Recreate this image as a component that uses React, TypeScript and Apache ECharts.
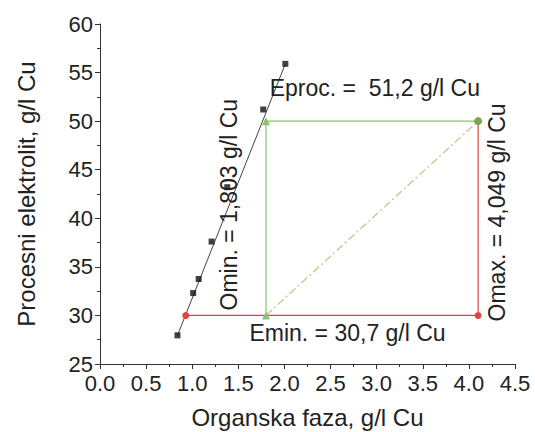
import React, { useEffect, useRef } from "react";
import * as echarts from "echarts";

const xTickLabels = ["0.0", "0.5", "1.0", "1.5", "2.0", "2.5", "3.0", "3.5", "4.0", "4.5"];
const yTicks = [25, 30, 35, 40, 45, 50, 55, 60];

const measuredPoints: [number, number][] = [
  [0.84, 27.95],
  [1.01, 32.3],
  [1.07, 33.75],
  [1.21, 37.6],
  [1.38, 43.2],
  [1.77, 51.2],
  [2.01, 55.9],
];
const fitLine: [number, number][] = [
  [0.84, 27.95],
  [2.01, 55.9],
];
const redPath: [number, number][] = [
  [0.93, 30],
  [4.1, 30],
  [4.1, 50],
];
const greenPath: [number, number][] = [
  [1.8, 30],
  [1.8, 50],
  [4.1, 50],
];
const diagonal: [number, number][] = [
  [1.8, 30],
  [4.1, 50],
];

const annotations = [
  { text: "Eproc. =  51,2 g/l Cu", at: [1.84, 53.4], rotate: 0, align: "left" },
  { text: "Emin. = 30,7 g/l Cu", at: [1.62, 28.2], rotate: 0, align: "left" },
  { text: "Omin. = 1,803 g/l Cu", at: [1.4, 41.4], rotate: Math.PI / 2, align: "center" },
  { text: "Omax. = 4,049 g/l Cu", at: [4.3, 40.6], rotate: Math.PI / 2, align: "center" },
];

const FONT = "'Liberation Sans', Arial, sans-serif";

export default function App() {
  const ref = useRef<HTMLDivElement>(null);
  useEffect(() => {
    if (!ref.current) return;
    const chart = echarts.init(ref.current, undefined, { renderer: "svg" });
    const RED = "#e0463c";
    const GREEN = "#86c46e";
    chart.setOption({
      animation: false,
      backgroundColor: "#ffffff",
      grid: {
        left: 100,
        right: 20,
        top: 24,
        bottom: 68,
        containLabel: false,
        outerBoundsMode: "none",
      },
      xAxis: {
        type: "value",
        min: 0,
        max: 4.5,
        interval: 0.5,
        name: "Organska faza, g/l Cu",
        nameLocation: "middle",
        nameGap: 41,
        nameTextStyle: { fontSize: 24, color: "#222", fontFamily: FONT, lineHeight: 24 },
        axisLine: { show: true, onZero: false, lineStyle: { color: "#333", width: 1 } },
        axisTick: { show: true, length: 5, lineStyle: { color: "#333" } },
        minorTick: { show: true, splitNumber: 2, length: 3, lineStyle: { color: "#333" } },
        splitLine: { show: false },
        axisLabel: {
          fontSize: 22,
          lineHeight: 16,
          color: "#222",
          fontFamily: FONT,
          margin: 11,
          formatter: (v: number) => xTickLabels[Math.round(v / 0.5)] ?? "",
        },
      },
      yAxis: {
        type: "value",
        min: yTicks[0],
        max: yTicks[yTicks.length - 1],
        interval: 5,
        name: "Procesni elektrolit, g/l Cu",
        nameLocation: "middle",
        nameGap: 62,
        nameTextStyle: { fontSize: 24, color: "#222", fontFamily: FONT },
        axisLine: { show: true, onZero: false, lineStyle: { color: "#333", width: 1 } },
        axisTick: { show: true, length: 5, lineStyle: { color: "#333" } },
        minorTick: { show: true, splitNumber: 2, length: 3, lineStyle: { color: "#333" } },
        splitLine: { show: false },
        axisLabel: { fontSize: 22, lineHeight: 16, color: "#222", fontFamily: FONT, margin: 7 },
      },
      series: [
        {
          type: "line",
          data: fitLine,
          symbol: "none",
          lineStyle: { color: "#444", width: 1 },
          z: 2,
        },
        {
          type: "scatter",
          data: measuredPoints,
          symbol: "rect",
          symbolSize: 6,
          itemStyle: { color: "#111" },
          z: 3,
        },
        {
          type: "line",
          data: redPath.map((p, i) => ({
            value: p,
            symbol: i < 2 ? "circle" : "none",
          })),
          symbolSize: 7,
          showAllSymbol: true,
          lineStyle: { color: RED, width: 1.2 },
          itemStyle: { color: RED },
          z: 3,
        },
        {
          type: "line",
          data: diagonal,
          symbol: "none",
          lineStyle: { color: "#b9cc8e", width: 1.3, type: [8, 3, 2, 3] },
          z: 3,
        },
        {
          type: "line",
          data: greenPath.map((p, i) => ({
            value: p,
            symbol: i < 2 ? "triangle" : "circle",
            symbolSize: 8,
            itemStyle: { color: i < 2 ? GREEN : "#7aa84a" },
          })),
          showAllSymbol: true,
          lineStyle: { color: GREEN, width: 1.2 },
          itemStyle: { color: GREEN },
          z: 4,
        },
      ],
    });
    const graphic = annotations.map((a) => {
      const [px, py] = chart.convertToPixel({ gridIndex: 0 }, a.at) as number[];
      return {
        type: "text",
        x: px,
        y: py,
        rotation: a.rotate,
        style: {
          text: a.text,
          fontSize: 23,
          fontFamily: FONT,
          fill: "#222",
          align: a.align,
          verticalAlign: "middle",
        },
        z: 10,
      };
    });
    chart.setOption({ graphic });
    return () => chart.dispose();
  }, []);
  return (
    <div
      ref={ref}
      style={{ position: "fixed", left: 0, top: 0, width: 535, height: 432 }}
    />
  );
}
